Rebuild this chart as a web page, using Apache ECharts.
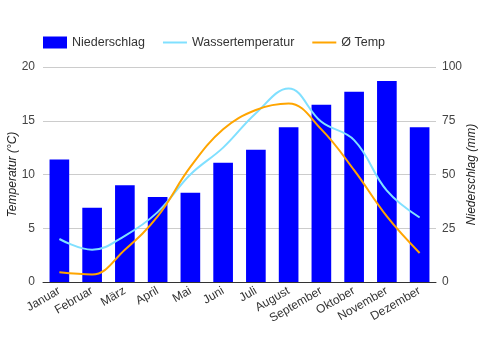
<!DOCTYPE html>
<html><head><meta charset="utf-8">
<script src="https://cdn.jsdelivr.net/npm/echarts@6/dist/echarts.min.js"></script>
<style>html,body{margin:0;padding:0;background:#fff}#c{width:481px;height:350px}</style>
</head><body><div id="c"></div>
<script>
var months = ['Januar','Februar','März','April','Mai','Juni','Juli','August','September','Oktober','November','Dezember'];
var niederschlag = [57, 34.5, 45, 39.5, 41.5, 55.5, 61.5, 72, 82.5, 88.5, 93.5, 72];
var wassertemp = [4, 3, 4.3, 6.5, 10, 12.5, 15.7, 18, 14.9, 13.2, 8.5, 6];
var temp = [0.9, 0.7, 3, 6.1, 10.7, 14.2, 16, 16.6, 14.2, 10.4, 6.1, 2.7];
var font = 'Liberation Sans, Arial, sans-serif';
var chart = echarts.init(document.getElementById('c'));
chart.setOption({
  animation: false,
  textStyle: {fontFamily: font},
  legend: {
    top: 31, left: 38, itemGap: 18, itemWidth: 24, itemHeight: 12,
    textStyle: {fontSize: 12.5, color: '#333', fontFamily: font},
    data: [
      {name: 'Niederschlag', icon: 'rect'},
      {name: 'Wassertemperatur', icon: 'path://M0,5 L24,5 L24,7 L0,7 Z', itemStyle: {color: '#80e0ff'}},
      {name: 'Ø Temp', icon: 'path://M0,5 L24,5 L24,7 L0,7 Z', itemStyle: {color: '#ffa500'}}
    ]
  },
  grid: {left: 43, right: 45, top: 67, bottom: 68, containLabel: false, outerBoundsMode: 'none'},
  xAxis: {
    type: 'category', data: months,
    axisLine: {lineStyle: {color: '#333'}},
    axisTick: {show: false},
    axisLabel: {rotate: 30, fontSize: 12, color: '#333', fontFamily: font, margin: 8, interval: 0}
  },
  yAxis: [
    {type: 'value', min: 0, max: 20, interval: 5, name: 'Temperatur (°C)', nameLocation: 'middle', nameGap: 24, nameMoveOverlap: false,
     nameTextStyle: {fontStyle: 'italic', fontSize: 12, color: '#222', fontFamily: font},
     axisLabel: {fontSize: 12, color: '#444', fontFamily: font, margin: 8},
     splitLine: {lineStyle: {color: '#ccc'}}, axisLine: {show: false}, axisTick: {show: false}},
    {type: 'value', min: 0, max: 100, interval: 25, name: 'Niederschlag (mm)', nameLocation: 'middle', nameGap: 30, nameMoveOverlap: false,
     nameTextStyle: {fontStyle: 'italic', fontSize: 12, color: '#222', fontFamily: font},
     axisLabel: {fontSize: 12, color: '#444', fontFamily: font, margin: 6},
     splitLine: {show: false}, axisLine: {show: false}, axisTick: {show: false}}
  ],
  series: [
    {name: 'Niederschlag', type: 'bar', yAxisIndex: 1, data: niederschlag, barCategoryGap: '40%', itemStyle: {color: '#0000ff'}},
    {name: 'Wassertemperatur', type: 'line', yAxisIndex: 0, data: wassertemp, smooth: 0.4, symbol: 'none', lineStyle: {color: '#80e0ff', width: 2}, itemStyle: {color: '#80e0ff'}},
    {name: 'Ø Temp', type: 'line', yAxisIndex: 0, data: temp, smooth: 0.4, symbol: 'none', lineStyle: {color: '#ffa500', width: 2}, itemStyle: {color: '#ffa500'}}
  ]
});
</script></body></html>
